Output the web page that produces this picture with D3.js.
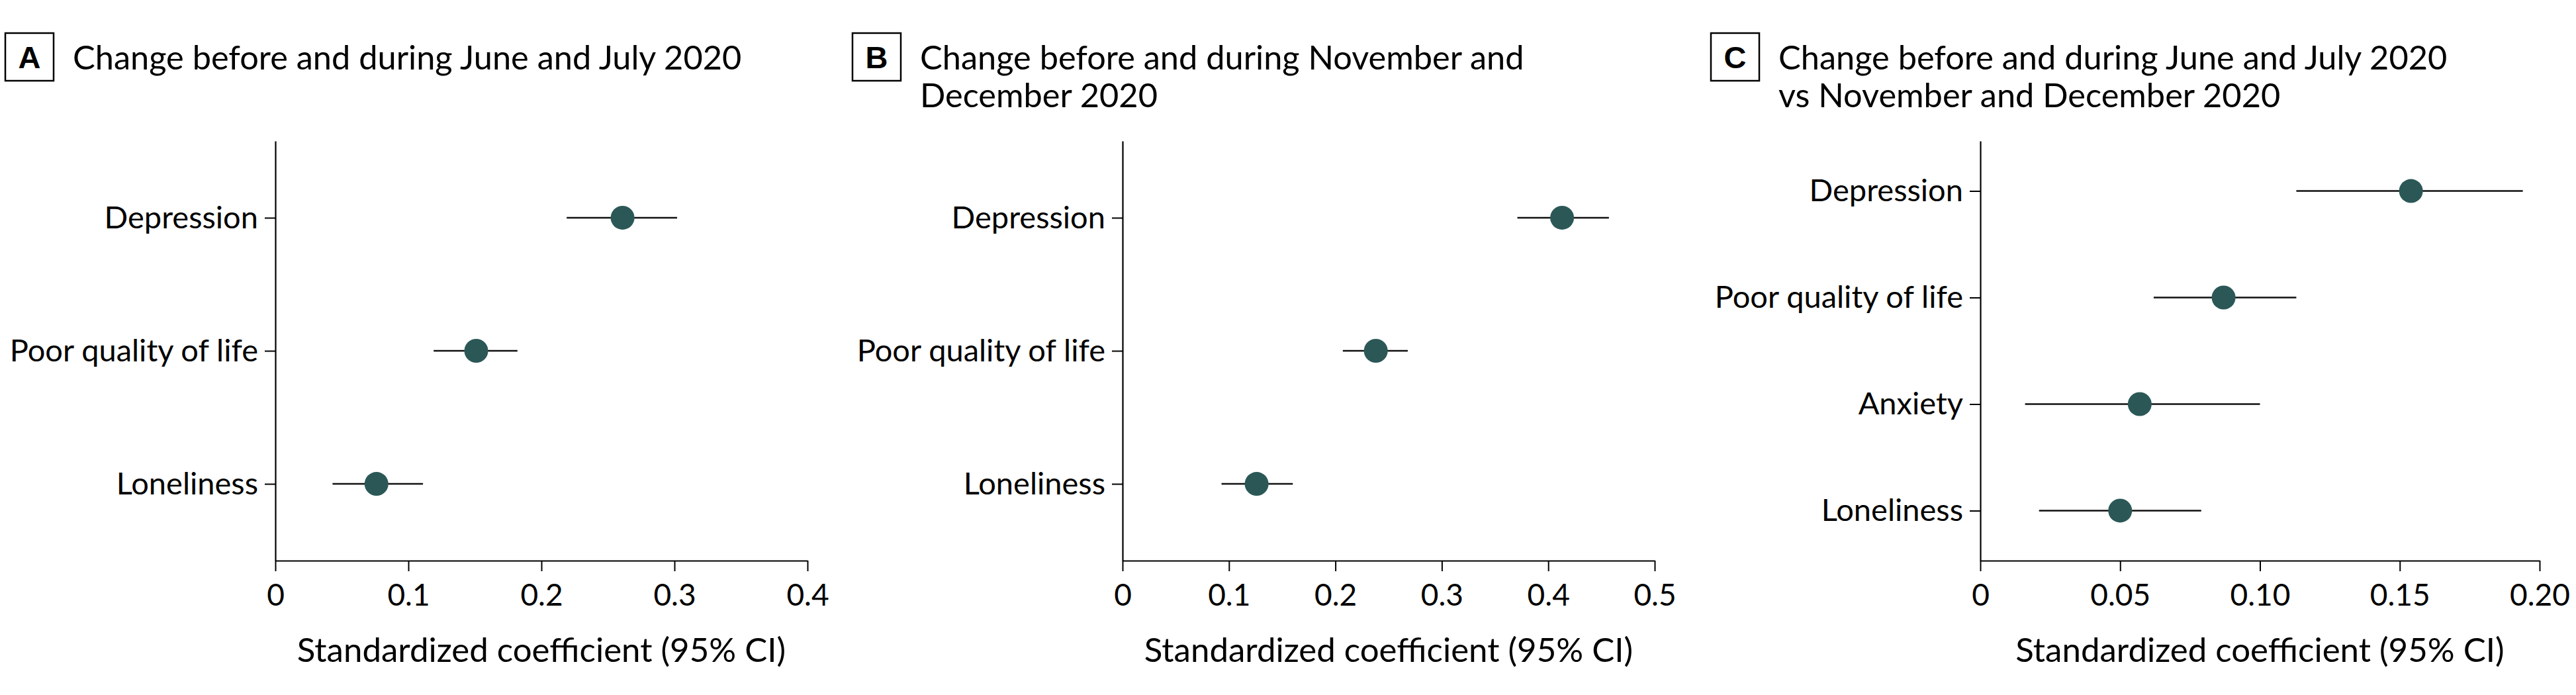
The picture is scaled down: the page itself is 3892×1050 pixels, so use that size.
<!DOCTYPE html>
<html>
<head>
<meta charset="utf-8">
<script src="https://cdn.jsdelivr.net/npm/d3@7"></script>
<style>
  body { margin: 0; background: #fff; }
  text { font-family: Lato, "Liberation Sans", Arial, sans-serif; fill: #000; }
</style>
</head>
<body>
<div id="chart"></div>
<script>
// panel A: before vs June/July 2020
var catsA = ['Depression', 'Poor quality of life', 'Loneliness'];
var estA = [0.261, 0.151, 0.076];
var lowA = [0.219, 0.119, 0.043];
var highA = [0.302, 0.182, 0.111];
var ticksA = [0, 0.1, 0.2, 0.3, 0.4];
var tickLabelsA = ['0', '0.1', '0.2', '0.3', '0.4'];

// panel B: before vs November/December 2020
var catsB = ['Depression', 'Poor quality of life', 'Loneliness'];
var estB = [0.413, 0.238, 0.126];
var lowB = [0.371, 0.207, 0.093];
var highB = [0.457, 0.268, 0.160];
var ticksB = [0, 0.1, 0.2, 0.3, 0.4, 0.5];
var tickLabelsB = ['0', '0.1', '0.2', '0.3', '0.4', '0.5'];

// panel C: June/July vs November/December 2020
var catsC = ['Depression', 'Poor quality of life', 'Anxiety', 'Loneliness'];
var estC = [0.154, 0.087, 0.057, 0.050];
var lowC = [0.113, 0.062, 0.016, 0.021];
var highC = [0.194, 0.113, 0.100, 0.079];
var ticksC = [0, 0.05, 0.10, 0.15, 0.20];
var tickLabelsC = ['0', '0.05', '0.10', '0.15', '0.20'];

var axisTitle = 'Standardized coefficient (95% CI)';

var panels = [
  { letter: 'A', title: ['Change before and during June and July 2020'],
    cats: catsA, est: estA, low: lowA, high: highA, ticks: ticksA, labels: tickLabelsA,
    left: 0, x0: 416, x1: 1220, pad: 0.577 },
  { letter: 'B', title: ['Change before and during November and', 'December 2020'],
    cats: catsB, est: estB, low: lowB, high: highB, ticks: ticksB, labels: tickLabelsB,
    left: 1280, x0: 1696, x1: 2500, pad: 0.577 },
  { letter: 'C', title: ['Change before and during June and July 2020', 'vs November and December 2020'],
    cats: catsC, est: estC, low: lowC, high: highC, ticks: ticksC, labels: tickLabelsC,
    left: 2577, x0: 2992, x1: 3837, pad: 0.469 }
];

var svg = d3.select('#chart').append('svg')
  .attr('width', 3892)
  .attr('height', 1050);

var yTop = 213, yBottom = 847;

panels.forEach(function(p) {
  var g = svg.append('g');

  // header: boxed letter + title
  g.append('rect')
    .attr('x', p.left + 8).attr('y', 50)
    .attr('width', 73).attr('height', 72)
    .attr('fill', 'none').attr('stroke', '#000').attr('stroke-width', 2.5);
  g.append('text')
    .attr('x', p.left + 44.5).attr('y', 103)
    .attr('text-anchor', 'middle')
    .style('font-family', '"Liberation Sans", Arial, sans-serif')
    .style('font-size', '47px').style('font-weight', 'bold')
    .text(p.letter);
  g.selectAll('text.title').data(p.title)
    .enter().append('text')
    .attr('class', 'title')
    .attr('x', p.left + 110)
    .attr('y', function(d, i) { return 105 + i * 57; })
    .style('font-size', '50.5px')
    .text(function(d) { return d; });

  var x = d3.scaleLinear()
    .domain([p.ticks[0], p.ticks[p.ticks.length - 1]])
    .range([p.x0, p.x1]);
  var y = d3.scalePoint()
    .domain(p.cats)
    .range([yTop, yBottom])
    .padding(p.pad);

  var xAxis = d3.axisBottom(x)
    .tickValues(p.ticks)
    .tickFormat(function(d, i) { return p.labels[i]; })
    .tickSize(16).tickSizeOuter(0).tickPadding(19);
  var yAxis = d3.axisLeft(y)
    .tickSize(16).tickSizeOuter(0).tickPadding(10);

  var gx = g.append('g')
    .attr('transform', 'translate(0,' + yBottom + ')')
    .call(xAxis);
  var gy = g.append('g')
    .attr('transform', 'translate(' + p.x0 + ',0)')
    .call(yAxis);

  [gx, gy].forEach(function(ax) {
    ax.select('.domain').attr('stroke', '#000').attr('stroke-width', 2.2);
    ax.selectAll('.tick line').attr('stroke', '#000').attr('stroke-width', 2);
    ax.selectAll('.tick text').attr('fill', '#000')
      .style('font-family', 'Lato, "Liberation Sans", Arial, sans-serif');
  });
  gx.selectAll('.tick text').style('font-size', '46px');
  gy.selectAll('.tick text').style('font-size', '47px');

  g.append('text')
    .attr('x', (p.x0 + p.x1) / 2).attr('y', 1000)
    .attr('text-anchor', 'middle')
    .style('font-size', '51px')
    .text(axisTitle);

  var rows = p.cats.map(function(c, i) {
    return { cat: c, est: p.est[i], low: p.low[i], high: p.high[i] };
  });

  g.selectAll('line.ci').data(rows)
    .enter().append('line')
    .attr('class', 'ci')
    .attr('x1', function(d) { return x(d.low); })
    .attr('x2', function(d) { return x(d.high); })
    .attr('y1', function(d) { return y(d.cat); })
    .attr('y2', function(d) { return y(d.cat); })
    .attr('stroke', '#111')
    .attr('stroke-width', 2.6);

  g.selectAll('circle.est').data(rows)
    .enter().append('circle')
    .attr('class', 'est')
    .attr('cx', function(d) { return x(d.est); })
    .attr('cy', function(d) { return y(d.cat); })
    .attr('r', 18)
    .attr('fill', '#2b5857');
});
</script>
</body>
</html>
